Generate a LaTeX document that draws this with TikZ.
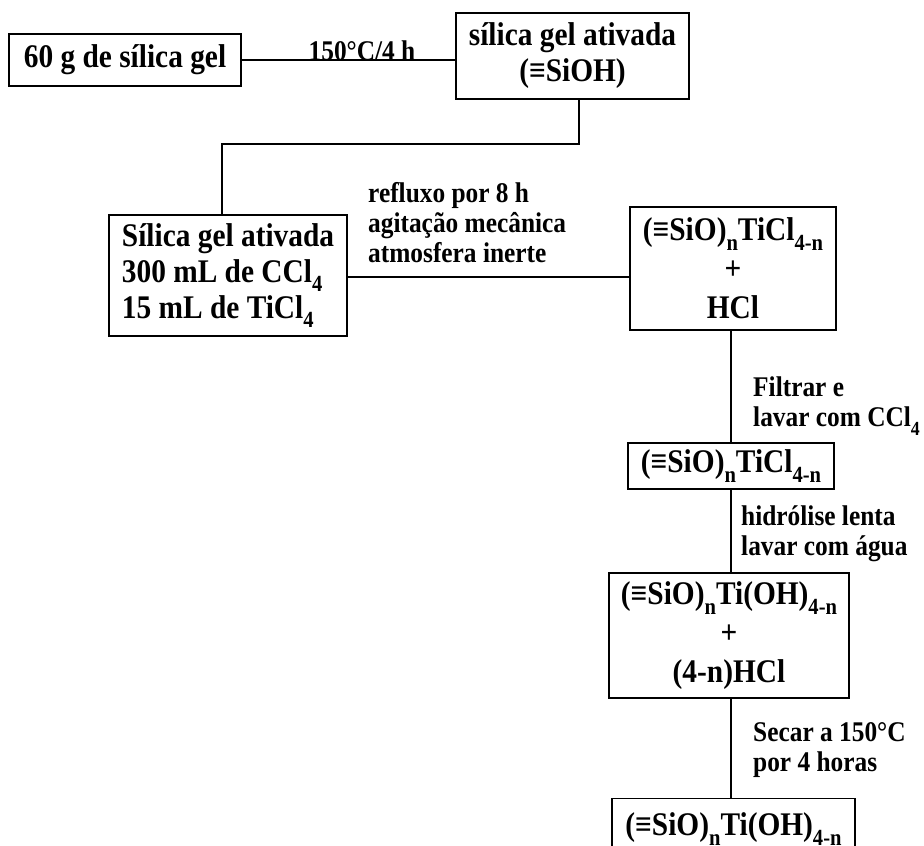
\documentclass[tikz,border=0pt]{standalone}
\usepackage{fontspec}
\setmainfont{Liberation Serif}[FakeStretch=0.89]
\newcommand{\subs}[1]{\raisebox{-0.3em}{\scalebox{0.7}{#1}}}
\begin{document}
\begin{tikzpicture}[x=1pt,y=-1pt,
  box/.style={draw, line width=1.4pt, inner sep=0pt, align=center,
    font=\bfseries\fontsize{33}{36}\selectfont},
  tallbox/.style={box, font=\bfseries\fontsize{33}{39}\selectfont},
  lbl/.style={inner sep=0pt, align=left,
    font=\bfseries\fontsize{28.5}{30}\selectfont},
  conn/.style={line width=1.2pt}]
\clip (0,0) rectangle (924,846);
\fill[white] (0,0) rectangle (924,846);

% boxes
\node[box, minimum width=232pt, minimum height=52pt] (b1) at (125,60) {60 g de sílica gel};
\node[box, minimum width=233pt, minimum height=86pt] (b2) at (572.5,56) {sílica gel ativada\\(≡SiOH)};
\node[box, minimum width=238pt, minimum height=121pt, align=left] (b3) at (228,275.5)
  {Sílica gel ativada\\300 mL de CCl\subs{4}\\15 mL de TiCl\subs{4}};
\node[tallbox, minimum width=206pt, minimum height=123pt] (b4) at (733,268.5)
  {(≡SiO)\subs{n}TiCl\subs{4-n}\\+\\HCl};
\node[box, minimum width=206pt, minimum height=46pt] (b5) at (731,466)
  {(≡SiO)\subs{n}TiCl\subs{4-n}};
\node[tallbox, minimum width=240pt, minimum height=125pt] (b6) at (729,635.5)
  {(≡SiO)\subs{n}Ti(OH)\subs{4-n}\\+\\(4-n)HCl};
\node[box, minimum width=243pt, minimum height=60pt, anchor=north] (b7) at (733.5,798)
  {(≡SiO)\subs{n}Ti(OH)\subs{4-n}};

% connectors
\draw[conn] (b1.east) -- (b1.east -| b2.west);
\node[lbl, anchor=base] (t1) at (362,60) {150°C/4 h};

\coordinate (k1) at (579,144);
\coordinate (k2) at (222,144);
\draw[conn] (b2.south -| k1) -- (k1) -- (k2) -- (k2 |- b3.north);

\coordinate (k3) at (480,277);
\draw[conn] (b3.east |- k3) -- (b4.west |- k3);
\node[lbl, anchor=north west] (t2) at (368,182)
  {refluxo por 8 h\\agitação mecânica\\atmosfera inerte};

\draw[conn] (b4.south -| b5.north) -- (b5.north);
\node[lbl, anchor=north west] (t3) at (753,377) {Filtrar e\\lavar com CCl\subs{4}};

\draw[conn] (b5.south) -- (b6.north -| b5.south);
\node[lbl, anchor=north west] (t4) at (741,505) {hidrólise lenta\\lavar com água};

\draw[conn] (b6.south -| b5.south) -- (b7.north -| b5.south);
\node[lbl, anchor=north west] (t5) at (753,722) {Secar a 150°C\\por 4 horas};
\end{tikzpicture}
\end{document}
